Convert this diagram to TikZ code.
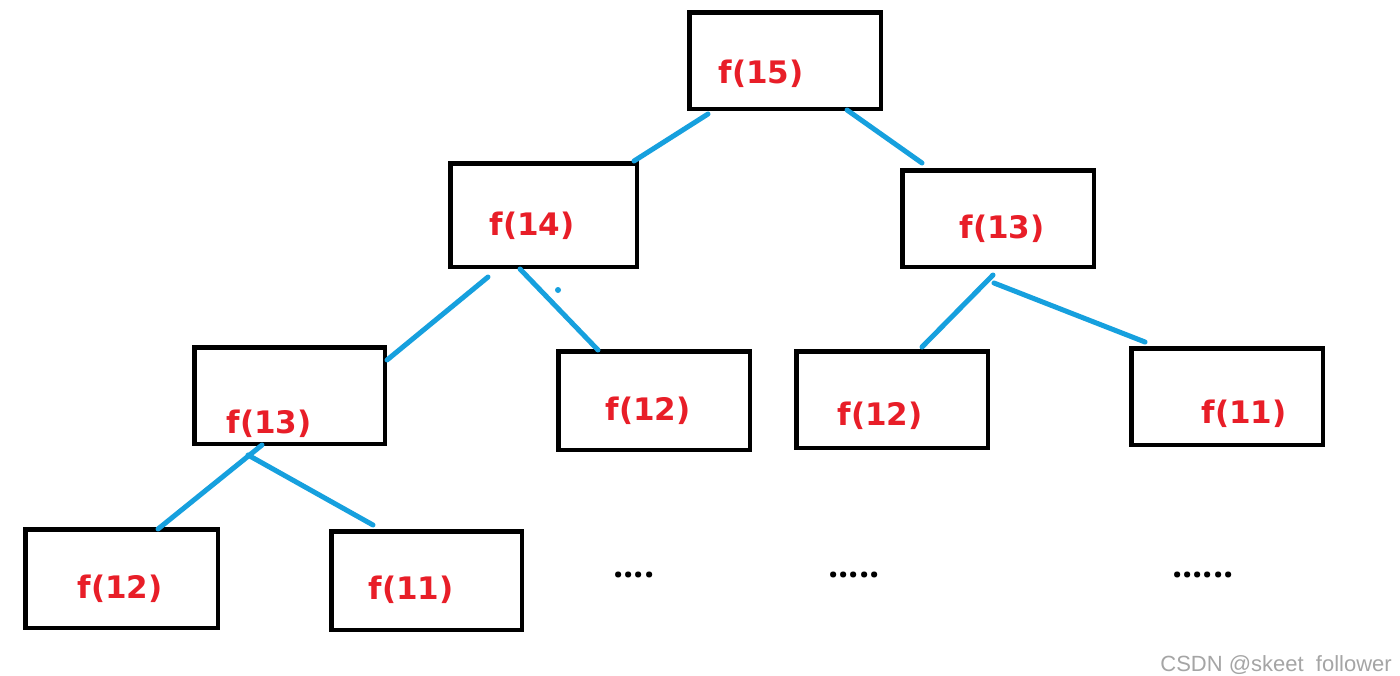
\documentclass[tikz,border=0pt]{standalone}
\usepackage{fontspec}
\setmainfont{Open Sans}
\newfontfamily\labfont{DejaVu Sans}
\newfontfamily\wmfont{Liberation Sans}
\usetikzlibrary{calc}
\definecolor{edgeblue}{RGB}{22,160,222}
\definecolor{labelred}{RGB}{232,30,40}
\definecolor{wmgray}{RGB}{165,165,165}
\begin{document}
\begin{tikzpicture}[x=1pt,y=-1pt,
  fbox/.style={draw=black,line width=4.5pt,inner sep=0pt,fill=white},
  flabel/.style={anchor=base,inner sep=0pt,text=labelred,font=\labfont\bfseries\fontsize{31}{31}\selectfont},
  conn/.style={draw=edgeblue,line width=5pt,line cap=round},
  ellip/.style={anchor=base,inner sep=0pt,text=black,font=\bfseries\fontsize{36}{36}\selectfont}]
\useasboundingbox (0,0) rectangle (1400,675);
\fill[white] (0,0) rectangle (1400,675);
% boxes
\node[fbox,minimum width=191.5pt,minimum height=96.5pt]  (b15)  at (785,60.5) {};
\node[fbox,minimum width=186.5pt,minimum height=103.5pt] (b14)  at (543.5,215) {};
\node[fbox,minimum width=191.5pt,minimum height=96.5pt]  (b13R) at (998,218.5) {};
\node[fbox,minimum width=190.5pt,minimum height=96.5pt]  (b13L) at (289.5,395.5) {};
\node[fbox,minimum width=191.5pt,minimum height=98.5pt]  (b12M) at (654,400.5) {};
\node[fbox,minimum width=191.5pt,minimum height=96.5pt]  (b12R) at (892,399.5) {};
\node[fbox,minimum width=191.5pt,minimum height=96.5pt]  (b11R) at (1227,396.5) {};
\node[fbox,minimum width=192.5pt,minimum height=98.5pt]  (b12B) at (121.5,578.5) {};
\node[fbox,minimum width=190.5pt,minimum height=98.5pt]  (b11B) at (426.5,580.5) {};
% labels
\node[flabel] (t15)  at (761,83)   {f(15)};
\node[flabel] (t14)  at (532,235)  {f(14)};
\node[flabel] (t13R) at (1002,238) {f(13)};
\node[flabel] (t13L) at (269,433)  {f(13)};
\node[flabel] (t12M) at (648,420)  {f(12)};
\node[flabel] (t12R) at (880,425)  {f(12)};
\node[flabel] (t11R) at (1244,423) {f(11)};
\node[flabel] (t12B) at (120,598)  {f(12)};
\node[flabel] (t11B) at (411,599)  {f(11)};
% connectors
\draw[conn] ($(b15.center)+(-77,53.5)$) -- ($(b14.center)+(90.5,-54)$);
\draw[conn] ($(b15.center)+(62,49.5)$) -- ($(b13R.center)+(-76,-55.5)$);
\draw[conn] ($(b14.center)+(-55.5,62)$) -- ($(b13L.center)+(97.5,-35.5)$);
\draw[conn] ($(b14.center)+(-23.5,54)$) -- ($(b12M.center)+(-56,-50.5)$);
\draw[conn] ($(b13R.center)+(-5,56.5)$) -- ($(b12R.center)+(30,-52.5)$);
\draw[conn] ($(b13R.center)+(-4,64.5)$) -- ($(b11R.center)+(-82,-54.5)$);
\draw[conn] ($(b13L.center)+(-27.5,49.5)$) -- ($(b12B.center)+(36.5,-49.5)$);
\draw[conn] ($(b13L.center)+(-41.5,59.5)$) -- ($(b11B.center)+(-53.5,-55.5)$);
% stray dot
\fill[edgeblue] (558,290) circle (3pt);
% ellipses
\node[ellip] (d1) at (634,577)  {....};
\node[ellip] (d2) at (854,577)  {.....};
\node[ellip] (d3) at (1203,577) {......};
% watermark
\node[anchor=base east,inner sep=0pt,text=wmgray,font=\wmfont\fontsize{22}{22}\selectfont] (wm) at (1392,671) {CSDN @skeet\ \ follower};
\end{tikzpicture}
\end{document}
